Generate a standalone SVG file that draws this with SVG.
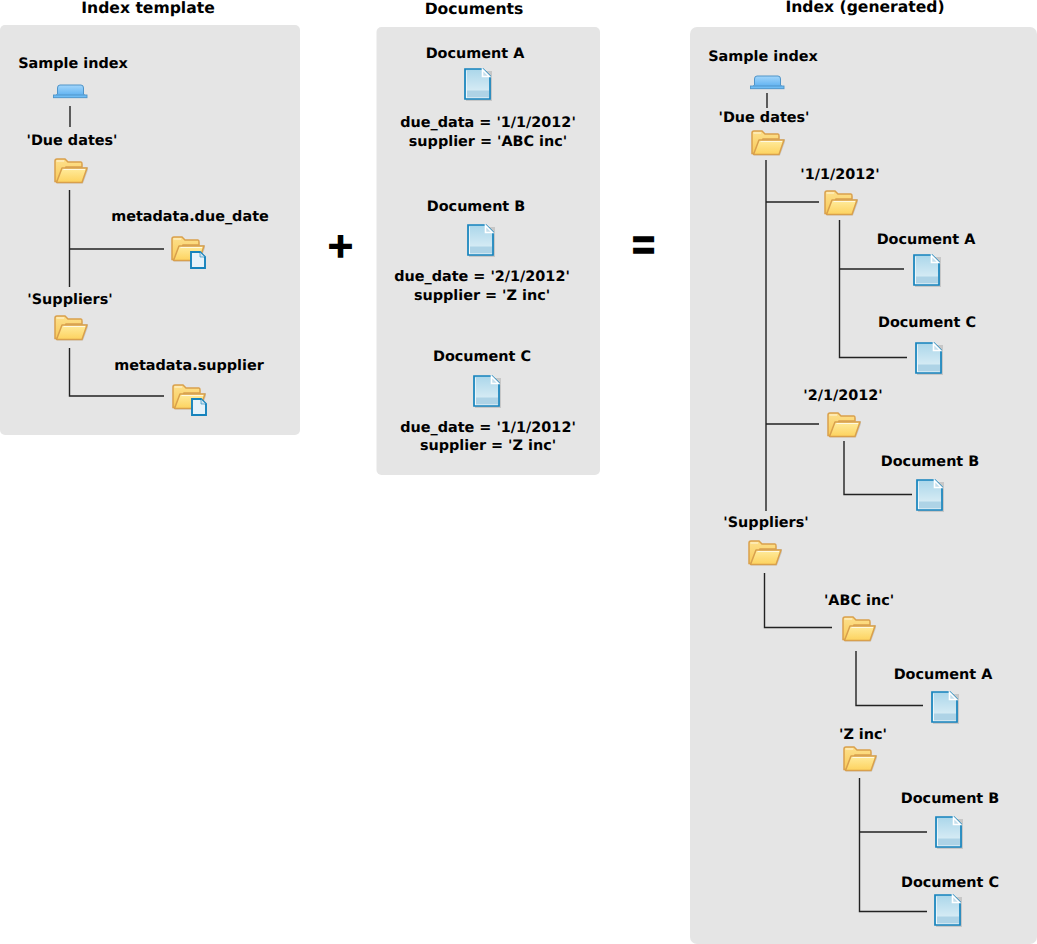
<svg xmlns="http://www.w3.org/2000/svg" width="1037" height="944" viewBox="0 0 1037 944">
<style>
text{font-family:"DejaVu Sans",sans-serif;font-weight:700;font-size:14.4px;text-anchor:middle;fill:#000;text-rendering:geometricPrecision}
.title{font-size:15.6px}
.panel{fill:#e5e5e5}
.big{font-size:34px;stroke:#000;stroke-width:1.5}
.eq{font-size:40px}
#connectors path{fill:none;stroke:#222;stroke-width:1.4}
</style>
<defs>
<linearGradient id="fb" x1="0" y1="0" x2="0" y2="1"><stop offset="0" stop-color="#fde08c"/><stop offset="1" stop-color="#f9ca58"/></linearGradient>
<linearGradient id="ff" x1="0" y1="0" x2="0" y2="1"><stop offset="0" stop-color="#ffec9e"/><stop offset="1" stop-color="#fdd25e"/></linearGradient>
<linearGradient id="dg" x1="0" y1="0" x2="0" y2="1"><stop offset="0" stop-color="#aad6ea"/><stop offset="1" stop-color="#e6f3f8"/></linearGradient>
<linearGradient id="ig" x1="0" y1="0" x2="0" y2="1"><stop offset="0" stop-color="#a3d6fb"/><stop offset="1" stop-color="#55adf0"/></linearGradient>
<symbol id="folder" width="36" height="28" viewBox="0 0 36 28" overflow="visible">
<path d="M3 25.500H29L34 12V9H3Z" fill="#000" fill-opacity=".12"/>
<path d="M1 3Q1 1 3 1H11L14 4H27Q28 4 28 6V9H12L7 23.500H1Z" fill="url(#fb)" stroke="#d9a04c" stroke-width="1.5"/>
<path d="M8 10H33L28 24.500H2.500Z" fill="url(#ff)" stroke="#d9a04c" stroke-width="1.5" stroke-linejoin="round"/>
<path d="M9.500 11.500H31M2.500 3H10" stroke="#fff" stroke-opacity=".7" fill="none"/>
</symbol>
<symbol id="doc" width="28" height="33" viewBox="0 0 28 33" overflow="visible">
<path d="M2 3H28V33H2Z" fill="#000" fill-opacity=".13"/>
<path d="M1 1H19L26 8V31H1Z" fill="url(#dg)" stroke="#1583bd" stroke-width="1.7"/>
<path d="M2.500 2.500V29.500H24.500" fill="none" stroke="#fff" stroke-opacity=".6"/>
<rect x="3" y="22.500" width="22" height="7" fill="#aed3e6"/>
<path d="M18.500 1.500V8.500H25.500Z" fill="#c4dfec" stroke="#fff" stroke-width="1.6"/>
</symbol>
<symbol id="index" width="35" height="15" viewBox="0 0 35 15" overflow="visible">
<path d="M1 13L4.500 10V4Q4.500 1 7 1H28Q30.500 1 30.500 4V10L33.500 13Z" fill="url(#ig)" stroke="#4f94c8"/>
<rect x="0.500" y="11" width="33.500" height="2.700" fill="#6dbcf5" stroke="#4f94c8" stroke-width=".9"/>
</symbol>
<symbol id="badge" width="18" height="20" viewBox="0 0 18 20" overflow="visible">
<path d="M1 1H10L15 6V17H1Z" fill="#e6f2f9" stroke="#1583bd" stroke-width="1.9"/>
<path d="M10 1V6H15Z" fill="#cfe3ee" stroke="#1583bd" stroke-width=".6"/>
</symbol>
</defs>
<g id="panels">
<rect class="panel" x="0" y="25" width="300" height="410" rx="5"/>
<rect class="panel" x="376.500" y="27" width="223.500" height="448" rx="5"/>
<rect class="panel" x="690" y="27" width="347" height="917" rx="7"/>
</g>
<g id="connectors">
<path d="M70 106V127"/>
<path d="M69.500 190V287M70 249H164"/>
<path d="M69.500 348V396H164"/>
<path d="M767 93V108"/>
<path d="M766 160V511M766 202H819M766 424H819"/>
<path d="M839.500 220V357.500H907M840 269H904"/>
<path d="M844 441V494.500H912"/>
<path d="M764.500 573V627.500H832"/>
<path d="M856 651V705.500H923"/>
<path d="M859.500 778V911.500H927M860 832H927"/>
</g>
<g id="titles">
<text class="title" x="148" y="13">Index template</text>
<text class="title" x="474" y="14">Documents</text>
<text class="title" x="865" y="12">Index (generated)</text>
<text class="big" x="340.500" y="257">+</text>
<text class="eq" transform="translate(643.500 261) scale(.84 1.28)" x="0" y="0">=</text>
</g>
<g id="t-sample"><text x="73" y="68">Sample index</text><use href="#index" x="53" y="84"/></g>
<g id="t-due"><text x="72" y="145">'Due dates'</text><use href="#folder" x="54" y="158"/></g>
<g id="t-duemeta"><text x="190" y="221">metadata.due_date</text><use href="#folder" x="171" y="236"/><use href="#badge" x="190" y="251"/></g>
<g id="t-sup"><text x="70" y="304">'Suppliers'</text><use href="#folder" x="54" y="315"/></g>
<g id="t-supmeta"><text x="189" y="370">metadata.supplier</text><use href="#folder" x="172" y="384"/><use href="#badge" x="191" y="398"/></g>
<g id="d-a"><text x="475" y="58">Document A</text><use href="#doc" x="464" y="68"/><text x="488" y="127">due_data = '1/1/2012'</text><text x="488" y="146">supplier = 'ABC inc'</text></g>
<g id="d-b"><text x="476" y="211">Document B</text><use href="#doc" x="467" y="224"/><text x="482" y="281">due_date = '2/1/2012'</text><text x="482" y="300">supplier = 'Z inc'</text></g>
<g id="d-c"><text x="482" y="361">Document C</text><use href="#doc" x="473" y="375"/><text x="488" y="432">due_date = '1/1/2012'</text><text x="488" y="450">supplier = 'Z inc'</text></g>
<g id="g-sample"><text x="763" y="61">Sample index</text><use href="#index" x="750" y="75"/></g>
<g id="g-due"><text x="764" y="122">'Due dates'</text><use href="#folder" x="751" y="130"/></g>
<g id="g-d1"><text x="840" y="179">'1/1/2012'</text><use href="#folder" x="824" y="190"/></g>
<g id="g-d1a"><text x="926" y="244">Document A</text><use href="#doc" x="913" y="254"/></g>
<g id="g-d1c"><text x="927" y="327">Document C</text><use href="#doc" x="915" y="342"/></g>
<g id="g-d2"><text x="843" y="400">'2/1/2012'</text><use href="#folder" x="827" y="412"/></g>
<g id="g-d2b"><text x="930" y="466">Document B</text><use href="#doc" x="916" y="479"/></g>
<g id="g-sup"><text x="766" y="527">'Suppliers'</text><use href="#folder" x="748" y="540"/></g>
<g id="g-abc"><text x="859" y="605">'ABC inc'</text><use href="#folder" x="842" y="616"/></g>
<g id="g-abca"><text x="943" y="679">Document A</text><use href="#doc" x="931" y="691"/></g>
<g id="g-z"><text x="863" y="739">'Z inc'</text><use href="#folder" x="843" y="746"/></g>
<g id="g-zb"><text x="950" y="803">Document B</text><use href="#doc" x="935" y="816"/></g>
<g id="g-zc"><text x="950" y="887">Document C</text><use href="#doc" x="934" y="894"/></g>
</svg>
